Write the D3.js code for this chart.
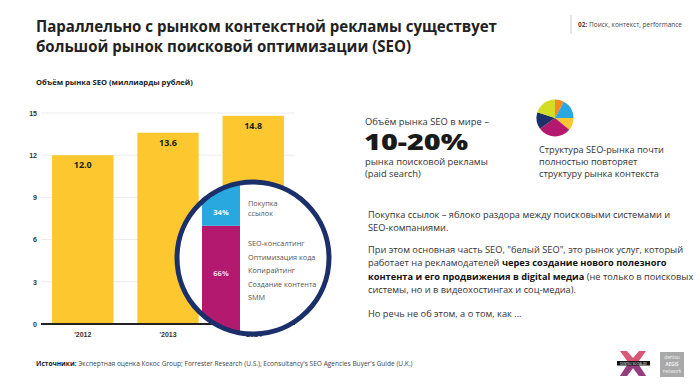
<!DOCTYPE html>
<html><head><meta charset="utf-8">
<script src="https://cdn.jsdelivr.net/npm/d3@7"></script>
<style>
html,body{margin:0;padding:0;background:#fff;}
svg{display:block;font-family:"Open Sans","Noto Sans",sans-serif;}
</style></head>
<body><svg id="c" width="700" height="391"></svg>
<script>
// ---- data ----
const years = ["'2012", "'2013", "'2014"];
const marketValues = [12.0, 13.6, 14.8];
const yTicks = [0, 3, 6, 9, 12, 15];
const splitLabels = ["34%", "66%"];
const splitValues = [34, 66];
const splitNames = [["Покупка", "ссылок"], ["SEO-консалтинг", "Оптимизация кода", "Копирайтинг", "Создание контента", "SMM"]];
const pieShares = [8, 17, 11, 29, 15, 20];
const pieColors = ["#f58a1f", "#2aa7df", "#fbc62f", "#b5196f", "#1c3168", "#d3dd26"];

const svg = d3.select("#c");
const YELLOW = "#fdc82f", BLUE = "#29a8df", MAG = "#b3196f", NAVY = "#1b2f6a";

function fit(sel, w) {
  const n = sel.node();
  const fs = parseFloat(sel.attr("font-size"));
  const cur = n.getComputedTextLength();
  sel.attr("font-size", (fs * w / cur).toFixed(2));
}

// ---- title ----
const t1 = svg.append("text").attr("x", 36).attr("y", 32).attr("font-size", 17).attr("font-weight", 700).attr("fill", "#222")
  .text("Параллельно с рынком контекстной рекламы существует");
fit(t1, 461);
svg.append("text").attr("x", 36).attr("y", 52).attr("font-size", t1.attr("font-size")).attr("font-weight", 700).attr("fill", "#222")
  .text("большой рынок поисковой оптимизации (SEO)");

svg.append("line").attr("x1", 571).attr("x2", 571).attr("y1", 15).attr("y2", 34).attr("stroke", "#ccc");
const hd = svg.append("text").attr("x", 578).attr("y", 27).attr("font-size", 6.5).attr("fill", "#444");
hd.append("tspan").attr("font-weight", 700).text("02: ");
hd.append("tspan").text("Поиск, контекст, performance");
fit(hd, 104);

const st = svg.append("text").attr("x", 36).attr("y", 85).attr("font-size", 7.5).attr("font-weight", 700).attr("fill", "#222")
  .text("Объём рынка SEO (миллиарды рублей)");
fit(st, 157);

// ---- bar chart ----
const x = d3.scaleBand().domain(years).range([41, 295]).paddingInner(0.28).paddingOuter(0.13);
const y = d3.scaleLinear().domain([0, 15]).range([324, 113]);

svg.append("g").selectAll("line").data(yTicks.filter(d => d > 0)).join("line")
  .attr("x1", 41).attr("x2", 295).attr("y1", d => y(d)).attr("y2", d => y(d))
  .attr("stroke", "#ececec").attr("stroke-width", 1);

const yAxis = svg.append("g").attr("transform", "translate(41,0)")
  .call(d3.axisLeft(y).tickValues(yTicks).tickSize(0).tickPadding(4));
yAxis.select(".domain").remove();
yAxis.selectAll("text").attr("font-size", 7).attr("font-weight", 700).attr("fill", "#333").attr("font-family", "inherit");

svg.append("g").selectAll("rect").data(marketValues).join("rect")
  .attr("x", (d, i) => x(years[i])).attr("width", x.bandwidth())
  .attr("y", d => y(d)).attr("height", d => y(0) - y(d)).attr("fill", YELLOW);

svg.append("g").selectAll("text").data(marketValues).join("text")
  .attr("x", (d, i) => x(years[i]) + x.bandwidth() / 2).attr("y", d => y(d) + 13)
  .attr("text-anchor", "middle").attr("font-size", 9).attr("font-weight", 700).attr("fill", "#222")
  .text(d => d.toFixed(1));

svg.append("line").attr("x1", 41).attr("x2", 295).attr("y1", y(0)).attr("y2", y(0)).attr("stroke", "#222").attr("stroke-width", 2);

const xAxis = svg.append("g").attr("transform", `translate(0,${y(0)})`)
  .call(d3.axisBottom(x).tickSize(0).tickPadding(8));
xAxis.select(".domain").remove();
xAxis.selectAll("text").attr("font-size", 7).attr("font-weight", 700).attr("fill", "#333").attr("font-family", "inherit");

// ---- magnifier circle ----
const cx = 253, cy = 258, R = 76;
const defs = svg.append("defs");
defs.append("clipPath").attr("id", "cc").append("circle").attr("cx", cx).attr("cy", cy).attr("r", R);
svg.append("circle").attr("cx", cx).attr("cy", cy).attr("r", R).attr("fill", "#fff");
const yS = d3.scaleLinear().domain([0, 100]).range([336, 169]);
const stackG = svg.append("g").attr("clip-path", "url(#cc)");
// blue (first share) on top, magenta (second share) at the bottom
const stackData = [
  { v: splitValues[1], y0: 0, y1: splitValues[1], c: MAG },
  { v: splitValues[0], y0: splitValues[1], y1: splitValues[1] + splitValues[0], c: BLUE }
];
stackG.selectAll("rect").data(stackData).join("rect")
  .attr("x", 202).attr("width", 38)
  .attr("y", d => yS(d.y1)).attr("height", d => yS(d.y0) - yS(d.y1))
  .attr("fill", d => d.c);
svg.append("text").attr("x", 221).attr("y", 215).attr("text-anchor", "middle")
  .attr("font-size", 7.5).attr("font-weight", 700).attr("fill", "#fff").text(splitLabels[0]);
svg.append("text").attr("x", 221).attr("y", 276).attr("text-anchor", "middle")
  .attr("font-size", 7.5).attr("font-weight", 700).attr("fill", "#f3d6e6").text(splitLabels[1]);

const lblG = svg.append("g").attr("font-size", 7.3).attr("fill", "#555");
lblG.selectAll("text.a").data(splitNames[0]).join("text").attr("class", "a")
  .attr("x", 248).attr("y", (d, i) => 206 + i * 10).text(d => d);
lblG.selectAll("text.b").data(splitNames[1]).join("text").attr("class", "b")
  .attr("x", 248).attr("y", (d, i) => 246 + i * 13.5).text(d => d);

svg.append("circle").attr("cx", cx).attr("cy", cy).attr("r", R).attr("fill", "none").attr("stroke", NAVY).attr("stroke-width", 5);

// ---- right side ----
const r1 = svg.append("text").attr("x", 365).attr("y", 125).attr("font-size", 10).attr("fill", "#333").text("Объём рынка SEO в мире –");
fit(r1, 124);
svg.append("text").attr("x", 364).attr("y", 150).attr("font-size", 22).attr("font-weight", 800).attr("fill", "#1a1a1a")
  .attr("textLength", 104).attr("lengthAdjust", "spacingAndGlyphs").text("10-20%");
const r3 = svg.append("text").attr("x", 365).attr("y", 165).attr("font-size", 10).attr("fill", "#333").text("рынка поисковой рекламы");
fit(r3, 123);
svg.append("text").attr("x", 365).attr("y", 177).attr("font-size", r3.attr("font-size")).attr("fill", "#333").text("(paid search)");

const pie = d3.pie().sort(null).value(d => d)(pieShares);
const arc = d3.arc().innerRadius(0).outerRadius(18.5);
svg.append("g").attr("transform", "translate(555,118)").selectAll("path").data(pie).join("path")
  .attr("d", arc).attr("fill", (d, i) => pieColors[i]);

const s1 = svg.append("text").attr("x", 539).attr("y", 153).attr("font-size", 10).attr("fill", "#333").text("Структура SEO-рынка почти");
fit(s1, 125);
["полностью повторяет", "структуру рынка контекста"].forEach((t, i) =>
  svg.append("text").attr("x", 539).attr("y", 165 + i * 12).attr("font-size", s1.attr("font-size")).attr("fill", "#333").text(t));

// paragraph
const paraLines = [
  [["Покупка ссылок – яблоко раздора между поисковыми системами и", 0]],
  [["SEO-компаниями.", 0]],
  [["При этом основная часть SEO, \"белый SEO\", это рынок услуг, который", 0]],
  [["работает на рекламодателей ", 0], ["через создание нового полезного", 1]],
  [["контента и его продвижения в digital медиа", 1], [" (не только в поисковых", 0]],
  [["системы, но и в видеохостингах и соц-медиа).", 0]],
  [["Но речь не об этом, а о том, как ...", 0]]
];
const paraY = [218, 231, 253, 266, 280, 293, 317];
const pg = svg.append("g");
const pts = paraLines.map((ln, i) => {
  const t = pg.append("text").attr("x", 368).attr("y", paraY[i]).attr("font-size", 9).attr("fill", "#333");
  ln.forEach(([s, b]) => t.append("tspan").attr("font-weight", b ? 700 : 400).attr("fill", b ? "#111" : "#333").text(s));
  return t;
});
fit(pts[0], 302);
const pfs = pts[0].attr("font-size");
pts.forEach(t => t.attr("font-size", pfs));

// footer
const ft = svg.append("text").attr("x", 36).attr("y", 366).attr("font-size", 6.5).attr("fill", "#444");
ft.append("tspan").attr("font-weight", 700).attr("fill", "#222").text("Источники: ");
ft.append("tspan").text("Экспертная оценка Кокос Group; Forrester Research (U.S.), Econsultancy's SEO Agencies Buyer's Guide (U.K.)");
fit(ft, 377);

// logos
const lg = svg.append("g");
lg.append("path").attr("d", "M620,351 L627,351 L633,358 L639,351 L646,351 L637.5,363 L646,376 L639,376 L633,368 L627,376 L620,376 L628.5,363 Z")
  .attr("fill", "#d23a5e").attr("opacity", 0.85);
lg.append("path").attr("d", "M628.5,363 L637.5,363 L646,376 L639,376 L633,368 L627,376 L620,376 Z").attr("fill", "#7b3584").attr("opacity", 0.75);
lg.append("rect").attr("x", 617).attr("y", 361).attr("width", 33).attr("height", 4.5).attr("fill", "#111");
lg.append("text").attr("x", 633.5).attr("y", 364.6).attr("text-anchor", "middle").attr("font-size", 3).attr("fill", "#fff").text("DENTSU SOCIALIZE");
lg.append("rect").attr("x", 660).attr("y", 352).attr("width", 24).attr("height", 25).attr("fill", "#a9a9a9");
["dentsu", "AEGIS", "network"].forEach((t, i) =>
  lg.append("text").attr("x", 672).attr("y", 359 + i * 7).attr("text-anchor", "middle").attr("font-size", i === 1 ? 4.5 : 4.8)
    .attr("font-weight", i === 1 ? 700 : 400).attr("fill", "#f4f4f4").text(t));
</script></body></html>
